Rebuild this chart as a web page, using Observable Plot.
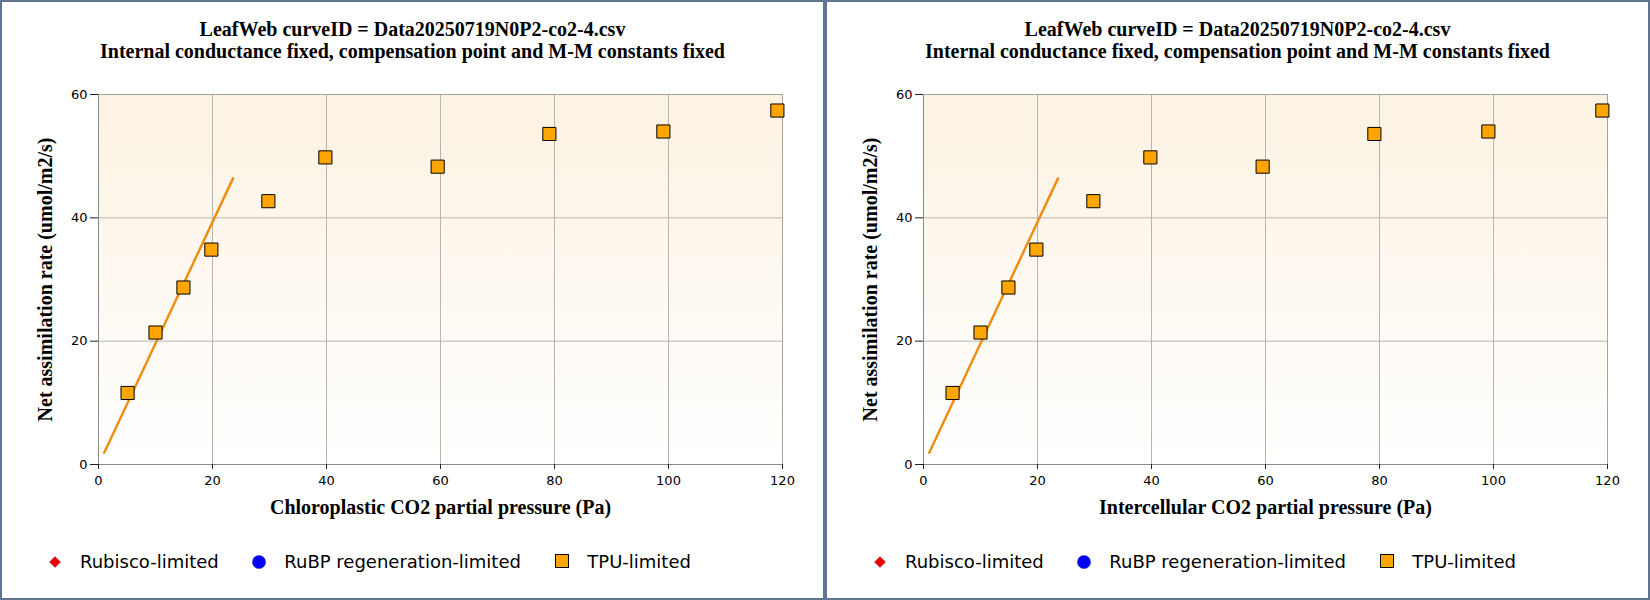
<!DOCTYPE html>
<html>
<head>
<meta charset="utf-8">
<script src="https://cdn.jsdelivr.net/npm/d3@7"></script>
<script src="https://cdn.jsdelivr.net/npm/@observablehq/plot@0.6"></script>
<style>
  html, body { margin: 0; padding: 0; background: #fff; }
  #root { position: relative; width: 1650px; height: 600px; overflow: hidden; }
  .panel { position: absolute; top: 0; width: 825px; height: 600px; background: #fff; }
  .border { position: absolute; left: 0; top: 0; width: 825px; height: 600px; box-sizing: border-box; border: 2px solid #5f7593; pointer-events: none; }
  .title { position: absolute; left: 0; width: 825px; text-align: center; font-family: "Liberation Serif", serif; font-weight: bold; font-size: 20px; line-height: 23px; color: #000; white-space: nowrap; }
  .chart { position: absolute; left: 0; top: 70px; }
  .leg-sym { position: absolute; }
  .leg-txt { position: absolute; font-family: "DejaVu Sans", sans-serif; font-size: 18px; line-height: 21px; color: #000; white-space: nowrap; }
</style>
</head>
<body>
<div id="root"></div>
<script>
// ---- data ----
const titleLine1 = "LeafWeb curveID = Data20250719N0P2-co2-4.csv";
const titleLine2 = "Internal conductance fixed, compensation point and M-M constants fixed";
const xTitles = ["Chloroplastic CO2 partial pressure (Pa)", "Intercellular CO2 partial pressure (Pa)"];
const yTitle = "Net assimilation rate (umol/m2/s)";
const xTicks = [0, 20, 40, 60, 80, 100, 120];
const yTicks = [0, 20, 40, 60];
const tpuX = [5.1, 10.0, 14.9, 19.8, 29.8, 39.8, 59.5, 79.1, 99.1, 119.1];
const tpuY = [11.6, 21.4, 28.7, 34.85, 42.7, 49.8, 48.3, 53.6, 54.0, 57.4];
const fitX = [1.0, 23.6];
const fitY = [1.9, 46.4];
const legendLabels = ["Rubisco-limited", "RuBP regeneration-limited", "TPU-limited"];

const points = tpuX.map((x, i) => ({x, y: tpuY[i]}));
const fitLine = fitX.map((x, i) => ({x, y: fitY[i]}));

const root = document.getElementById("root");

function makePanel(idx) {
  const panel = document.createElement("div");
  panel.className = "panel";
  panel.style.left = (idx * 825) + "px";
  root.appendChild(panel);

  const t1 = document.createElement("div");
  t1.className = "title"; t1.style.top = "17.5px"; t1.textContent = titleLine1;
  const t2 = document.createElement("div");
  t2.className = "title"; t2.style.top = "40px"; t2.textContent = titleLine2;
  panel.appendChild(t1); panel.appendChild(t2);

  const gradId = "bggrad" + idx;
  const svg = Plot.plot({
    width: 825,
    height: 470,
    marginTop: 24,
    marginBottom: 76,
    marginLeft: 98,
    marginRight: 43,
    style: {fontFamily: "DejaVu Sans", fontSize: "13px", color: "#000", background: "transparent", overflow: "visible"},
    x: {domain: [0, 120]},
    y: {domain: [0, 60]},
    marks: [
      Plot.frame({fill: `url(#${gradId})`, stroke: "none"}),
      Plot.gridX(xTicks.slice(1, -1), {stroke: "#b9b5af", strokeOpacity: 1}),
      Plot.gridY(yTicks.slice(1, -1), {stroke: "#b9b5af", strokeOpacity: 1}),
      Plot.frame({stroke: "#a7a29a", strokeWidth: 1}),
      Plot.ruleY([0], {stroke: "#8a8a8a"}),
      Plot.ruleX([0], {stroke: "#8a8a8a"}),
      Plot.axisX(xTicks, {tickSize: 5, tickPadding: 6, stroke: "#222", label: null, fontSize: 13}),
      Plot.axisY(yTicks, {tickSize: 8, tickPadding: 3, stroke: "#222", label: null, fontSize: 13}),
      Plot.line(fitLine, {x: "x", y: "y", stroke: "#ef8c0e", strokeWidth: 2.4}),
      Plot.dot(points, {x: "x", y: "y", symbol: "square", r: 7.4, fill: "#FFA500", stroke: "#000", strokeWidth: 1}),
      Plot.text([xTitles[idx]], {text: d => d, frameAnchor: "bottom", dy: 49.5, lineAnchor: "bottom", fontFamily: "Liberation Serif", fontWeight: "bold", fontSize: 20, fill: "#000"}),
      Plot.text([yTitle], {text: d => d, frameAnchor: "left", textAnchor: "middle", dx: -46.5, rotate: -90, lineAnchor: "bottom", fontFamily: "Liberation Serif", fontWeight: "bold", fontSize: 20, fill: "#000"})
    ]
  });
  const defs = d3.select(svg).insert("defs", ":first-child");
  const g = defs.append("linearGradient").attr("id", gradId)
    .attr("x1", 0).attr("y1", 0).attr("x2", 0).attr("y2", 1);
  g.append("stop").attr("offset", "0%").attr("stop-color", "#fcf2e2");
  g.append("stop").attr("offset", "100%").attr("stop-color", "#ffffff");
  svg.classList.add("chart");
  panel.appendChild(svg);

  // legend
  const syms = [
    `<svg width="14" height="14" viewBox="0 0 14 14"><path d="M7,1.5 L12.5,7 L7,12.5 L1.5,7 Z" fill="#ee0000" stroke="#9a3050" stroke-width="0.6"/></svg>`,
    `<svg width="16" height="16" viewBox="0 0 16 16"><circle cx="8" cy="8" r="6.6" fill="#0000ff" stroke="#3030a0" stroke-width="0.5"/></svg>`,
    `<svg width="16" height="16" viewBox="0 0 16 16"><rect x="1.5" y="1.5" width="13" height="13" fill="#FFA500" stroke="#000" stroke-width="1"/></svg>`
  ];
  const symCenters = [[55, 561.5], [258.7, 561.7], [561.7, 560.8]];
  const symSize = [14, 16, 16];
  const txtLeft = [80, 284.3, 587.3];
  legendLabels.forEach((lab, i) => {
    const s = document.createElement("div");
    s.className = "leg-sym";
    s.innerHTML = syms[i];
    s.style.left = (symCenters[i][0] - symSize[i] / 2) + "px";
    s.style.top = (symCenters[i][1] - symSize[i] / 2) + "px";
    s.style.width = symSize[i] + "px"; s.style.height = symSize[i] + "px";
    s.style.lineHeight = "0";
    panel.appendChild(s);
    const tx = document.createElement("div");
    tx.className = "leg-txt";
    tx.textContent = lab;
    tx.style.left = txtLeft[i] + "px";
    tx.style.top = "551.3px";
    panel.appendChild(tx);
  });

  const b = document.createElement("div");
  b.className = "border";
  panel.appendChild(b);
}

makePanel(0);
makePanel(1);
</script>
</body>
</html>
